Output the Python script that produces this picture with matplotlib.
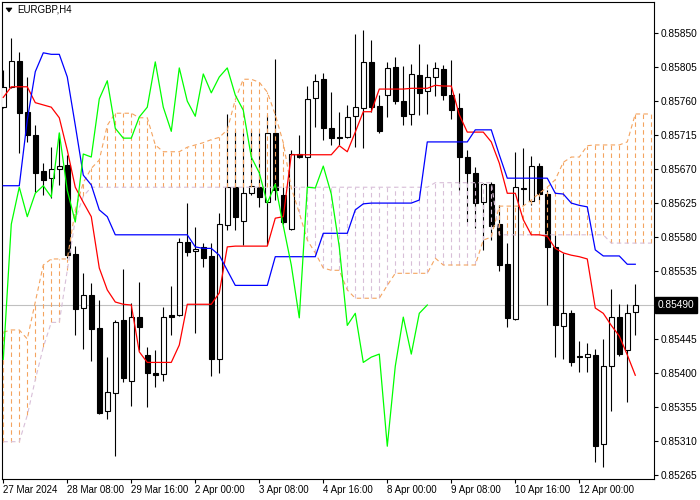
import matplotlib
matplotlib.use('Agg')
import matplotlib.pyplot as plt
import matplotlib.transforms as mtransforms
from matplotlib.patches import Rectangle, Polygon

# EURGBP H4 candles
opens = [0.85752, 0.85779, 0.85813, 0.85746, 0.85715, 0.85667, 0.85658, 0.85670, 0.85675, 0.85558,
         0.85486, 0.85503, 0.85460, 0.85350, 0.85373, 0.85470, 0.85389, 0.85474, 0.85424, 0.85400,
         0.85399, 0.85477, 0.85477, 0.85573, 0.85561, 0.85567, 0.85555, 0.85418, 0.85596, 0.85646,
         0.85601, 0.85638, 0.85646, 0.85626, 0.85718, 0.85636, 0.85591, 0.85690, 0.85686, 0.85764,
         0.85789, 0.85724, 0.85713, 0.85712, 0.85740, 0.85751, 0.85812, 0.85754, 0.85768, 0.85805,
         0.85760, 0.85743, 0.85795, 0.85773, 0.85792, 0.85803, 0.85768, 0.85751, 0.85686, 0.85665,
         0.85626, 0.85650, 0.85597, 0.85544, 0.85471, 0.85644, 0.85628, 0.85674, 0.85637, 0.85567,
         0.85462, 0.85479, 0.85422, 0.85421, 0.85424, 0.85306, 0.85409, 0.85474, 0.85430, 0.85481]
highs = [0.85801, 0.85844, 0.85825, 0.85792, 0.85728, 0.85678, 0.85699, 0.85718, 0.85689, 0.85568,
         0.85532, 0.85519, 0.85497, 0.85421, 0.85470, 0.85538, 0.85493, 0.85520, 0.85434, 0.85430,
         0.85487, 0.85515, 0.85579, 0.85625, 0.85593, 0.85572, 0.85572, 0.85612, 0.85743, 0.85720,
         0.85718, 0.85722, 0.85718, 0.85742, 0.85816, 0.85646, 0.85695, 0.85715, 0.85780, 0.85796,
         0.85797, 0.85772, 0.85746, 0.85755, 0.85849, 0.85854, 0.85841, 0.85768, 0.85812, 0.85818,
         0.85807, 0.85809, 0.85836, 0.85809, 0.85812, 0.85808, 0.85814, 0.85771, 0.85695, 0.85673,
         0.85652, 0.85653, 0.85622, 0.85572, 0.85693, 0.85698, 0.85687, 0.85678, 0.85642, 0.85583,
         0.85559, 0.85483, 0.85442, 0.85440, 0.85432, 0.85445, 0.85511, 0.85491, 0.85491, 0.85518]
lows = [0.85751, 0.85777, 0.85691, 0.85706, 0.85640, 0.85636, 0.85632, 0.85649, 0.85552, 0.85450,
        0.85432, 0.85416, 0.85346, 0.85339, 0.85290, 0.85388, 0.85356, 0.85430, 0.85355, 0.85381,
        0.85389, 0.85450, 0.85475, 0.85555, 0.85453, 0.85540, 0.85396, 0.85400, 0.85589, 0.85589,
        0.85569, 0.85636, 0.85620, 0.85569, 0.85629, 0.85597, 0.85589, 0.85685, 0.85646, 0.85726,
        0.85709, 0.85702, 0.85702, 0.85711, 0.85699, 0.85698, 0.85746, 0.85718, 0.85739, 0.85756,
        0.85728, 0.85728, 0.85742, 0.85743, 0.85767, 0.85762, 0.85736, 0.85642, 0.85600, 0.85592,
        0.85563, 0.85576, 0.85535, 0.85461, 0.85470, 0.85622, 0.85622, 0.85629, 0.85490, 0.85421,
        0.85418, 0.85409, 0.85401, 0.85401, 0.85282, 0.85275, 0.85350, 0.85422, 0.85361, 0.85450]
closes = [0.85779, 0.85813, 0.85744, 0.85715, 0.85665, 0.85656, 0.85670, 0.85674, 0.85556, 0.85485,
          0.85503, 0.85458, 0.85347, 0.85375, 0.85467, 0.85393, 0.85474, 0.85461, 0.85400, 0.85397,
          0.85474, 0.85474, 0.85573, 0.85560, 0.85564, 0.85552, 0.85418, 0.85597, 0.85646, 0.85607,
          0.85638, 0.85648, 0.85633, 0.85718, 0.85642, 0.85600, 0.85690, 0.85686, 0.85763, 0.85787,
          0.85724, 0.85711, 0.85711, 0.85739, 0.85752, 0.85812, 0.85752, 0.85720, 0.85804, 0.85760,
          0.85740, 0.85796, 0.85771, 0.85792, 0.85804, 0.85768, 0.85748, 0.85686, 0.85665, 0.85625,
          0.85650, 0.85595, 0.85543, 0.85473, 0.85646, 0.85645, 0.85674, 0.85637, 0.85567, 0.85463,
          0.85479, 0.85414, 0.85421, 0.85425, 0.85303, 0.85409, 0.85474, 0.85425, 0.85479, 0.85490]

# Ichimoku lines
tenkan = [0.85765, 0.85779, 0.85779, 0.85779, 0.85758, 0.85755, 0.85752, 0.85738, 0.85695, 0.85646,
          0.85626, 0.85607, 0.85539, 0.85510, 0.85494, 0.85491, 0.85490, 0.85428, 0.85414, 0.85414,
          0.85414, 0.85414, 0.85437, 0.85491, 0.85491, 0.85491, 0.85491, 0.85506, 0.85567, 0.85568,
          0.85568, 0.85568, 0.85568, 0.85568, 0.85605, 0.85607, 0.85689, 0.85689, 0.85689, 0.85689,
          0.85689, 0.85689, 0.85701, 0.85693, 0.85719, 0.85746, 0.85746, 0.85776, 0.85776, 0.85776,
          0.85776, 0.85777, 0.85777, 0.85777, 0.85781, 0.85780, 0.85780, 0.85742, 0.85719, 0.85719,
          0.85719, 0.85706, 0.85678, 0.85638, 0.85638, 0.85603, 0.85583, 0.85583, 0.85581, 0.85565,
          0.85559, 0.85556, 0.85554, 0.85551, 0.85486, 0.85479, 0.85463, 0.85449, 0.85424, 0.85397]
kijun = [0.85648, 0.85648, 0.85648, 0.85735, 0.85799, 0.85824, 0.85822, 0.85822, 0.85792, 0.85728,
         0.85662, 0.85649, 0.85616, 0.85607, 0.85583, 0.85583, 0.85583, 0.85583, 0.85583, 0.85583,
         0.85583, 0.85583, 0.85583, 0.85583, 0.85567, 0.85565, 0.85565, 0.85556, 0.85536, 0.85516,
         0.85516, 0.85516, 0.85516, 0.85516, 0.85554, 0.85554, 0.85554, 0.85554, 0.85554, 0.85554,
         0.85585, 0.85585, 0.85585, 0.85585, 0.85616, 0.85624, 0.85625, 0.85625, 0.85625, 0.85625,
         0.85625, 0.85625, 0.85629, 0.85706, 0.85706, 0.85706, 0.85706, 0.85706, 0.85706, 0.85722,
         0.85722, 0.85722, 0.85689, 0.85658, 0.85658, 0.85658, 0.85658, 0.85658, 0.85658, 0.85638,
         0.85637, 0.85625, 0.85622, 0.85620, 0.85563, 0.85555, 0.85555, 0.85555, 0.85544, 0.85544]
span_a = [0.85454, 0.85457, 0.85457, 0.85445, 0.85494, 0.85543, 0.85551, 0.85551, 0.85551, 0.85616,
          0.85652, 0.85671, 0.85682, 0.85728, 0.85744, 0.85744, 0.85744, 0.85738, 0.85738, 0.85702,
          0.85693, 0.85693, 0.85693, 0.85699, 0.85702, 0.85705, 0.85709, 0.85712, 0.85722, 0.85762,
          0.85789, 0.85789, 0.85785, 0.85772, 0.85742, 0.85705, 0.85645, 0.85612, 0.85576, 0.85559,
          0.85539, 0.85536, 0.85536, 0.85510, 0.85499, 0.85499, 0.85499, 0.85499, 0.85516, 0.85532,
          0.85532, 0.85532, 0.85532, 0.85532, 0.85552, 0.85543, 0.85543, 0.85543, 0.85543, 0.85543,
          0.85576, 0.85580, 0.85621, 0.85621, 0.85621, 0.85621, 0.85629, 0.85638, 0.85646, 0.85656,
          0.85679, 0.85686, 0.85686, 0.85701, 0.85702, 0.85702, 0.85702, 0.85702, 0.85706, 0.85743,
          0.85743, 0.85743]
span_b = [0.85309, 0.85309, 0.85309, 0.85344, 0.85391, 0.85434, 0.85467, 0.85467, 0.85536, 0.85603,
          0.85634, 0.85646, 0.85646, 0.85646, 0.85646, 0.85646, 0.85646, 0.85646, 0.85646, 0.85646,
          0.85646, 0.85646, 0.85646, 0.85646, 0.85646, 0.85646, 0.85646, 0.85646, 0.85646, 0.85646,
          0.85646, 0.85646, 0.85646, 0.85646, 0.85646, 0.85646, 0.85646, 0.85646, 0.85646, 0.85646,
          0.85646, 0.85646, 0.85646, 0.85646, 0.85646, 0.85646, 0.85646, 0.85646, 0.85646, 0.85646,
          0.85646, 0.85646, 0.85646, 0.85646, 0.85652, 0.85652, 0.85652, 0.85652, 0.85652, 0.85652,
          0.85652, 0.85652, 0.85583, 0.85583, 0.85583, 0.85583, 0.85583, 0.85583, 0.85583, 0.85583,
          0.85583, 0.85583, 0.85583, 0.85583, 0.85583, 0.85583, 0.85572, 0.85572, 0.85572, 0.85572,
          0.85572, 0.85572]

x_ticks = [0, 8, 16, 24, 32, 40, 48, 56, 64, 72]
x_labels = ['27 Mar 2024', '28 Mar 08:00', '29 Mar 16:00', '2 Apr 00:00', '3 Apr 08:00',
            '4 Apr 16:00', '8 Apr 00:00', '9 Apr 08:00', '10 Apr 16:00', '12 Apr 00:00']
y_ticks = [0.85265, 0.85310, 0.85355, 0.85400, 0.85445, 0.85490, 0.85535,
           0.85580, 0.85625, 0.85670, 0.85715, 0.85760, 0.85805, 0.85850]
last_price = 0.85490
symbol = 'EURGBP,H4'

plt.rcParams['font.family'] = ['Liberation Sans', 'DejaVu Sans']

DOT = (0, (4, 3))


def grafico():
    fig = plt.figure(figsize=(7, 5), dpi=100)
    ax = fig.add_axes([2 / 700, 21 / 500, 652 / 700, 477 / 500])

    # candles
    for i in range(len(closes)):
        o, h, l, c = opens[i], highs[i], lows[i], closes[i]
        ax.vlines(i, l, h, colors='black', lw=0.8, zorder=2)
        cor = 'white' if c >= o else 'black'
        ax.add_patch(Rectangle((i - 0.3, min(o, c)), 0.6, max(abs(c - o), 1e-7),
                               facecolor=cor, edgecolor='black', lw=0.8, zorder=3))

    # cloud, drawn as dotted histogram like the terminal does
    xs_cloud = list(range(len(span_a)))
    for i in xs_cloud:
        a, b = span_a[i], span_b[i]
        cor = 'sandybrown' if a >= b else 'thistle'
        ax.vlines(i, min(a, b), max(a, b), colors=cor, lw=0.8, linestyles=DOT, zorder=4)
    ax.plot(xs_cloud, span_a, color='sandybrown', lw=0.8, ls=DOT, zorder=4)
    ax.plot(xs_cloud, span_b, color='thistle', lw=0.8, ls=DOT, zorder=4)

    xs = list(range(len(closes)))
    ax.plot(xs, tenkan, color='red', lw=0.9, zorder=5)
    ax.plot(xs, kijun, color='blue', lw=0.9, zorder=5)
    # chikou = close shifted 26 bars back
    chikou = closes[26:]
    ax.plot(list(range(len(chikou))), chikou, color='lime', lw=0.9, zorder=5)

    ax.axhline(last_price, color='#c0c0c0', lw=0.8, zorder=1)

    ax.set_xlim(-0.16, 81.34)
    ax.set_ylim(0.852596, 0.858913)

    for s in ax.spines.values():
        s.set_color('black')
        s.set_linewidth(0.8)

    ax.yaxis.tick_right()
    ax.set_yticks(y_ticks)
    # the tick at the last price is hidden under the price box
    ax.set_yticklabels(['' if abs(v - last_price) < 1e-7 else '%.5f' % v for v in y_ticks])
    ax.set_xticks(x_ticks)
    ax.set_xticklabels(x_labels, ha='left')
    ax.tick_params(axis='y', direction='out', length=3, width=0.8, pad=2, labelsize=7.3)
    ax.tick_params(axis='x', direction='out', length=3, width=0.8, pad=1, labelsize=7)

    trans = mtransforms.blended_transform_factory(ax.transAxes, ax.transData)
    ax.text(1.0061, last_price, '%.5f' % last_price, transform=trans, ha='left', va='center',
            color='white', fontsize=7.3, clip_on=False, zorder=10,
            bbox=dict(boxstyle='square,pad=0.25', fc='black', ec='black'))

    fig.text(17 / 700, 1 - 10 / 500, symbol, fontsize=7, va='center', ha='left')
    fig.add_artist(Polygon([(6 / 700, 1 - 8 / 500), (12 / 700, 1 - 8 / 500), (9 / 700, 1 - 12 / 500)],
                           closed=True, facecolor='black', edgecolor='black', lw=0.5,
                           transform=fig.transFigure))

    fig.savefig('out.png', dpi=100)


if __name__ == '__main__':
    grafico()
